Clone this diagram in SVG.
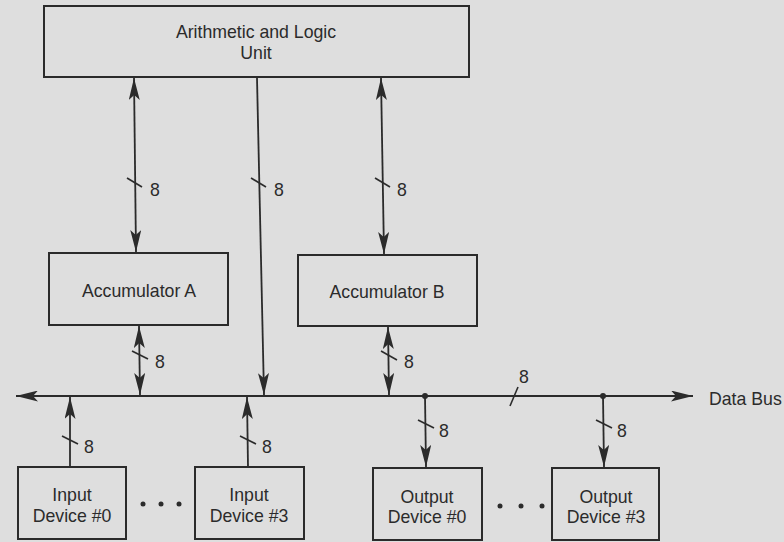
<svg xmlns="http://www.w3.org/2000/svg" width="784" height="542" viewBox="0 0 784 542">
  <style>
    .box { fill: none; stroke: #2b2b2b; stroke-width: 2; }
    .wire { fill: none; stroke: #2b2b2b; stroke-width: 1.8; }
    .tick { fill: none; stroke: #2b2b2b; stroke-width: 1.6; }
    .lbl { font-family: "Liberation Sans", Arial, sans-serif; font-size: 17.7px; fill: #2b2b2b; text-anchor: middle; }
    .num { font-family: "Liberation Sans", Arial, sans-serif; font-size: 17.7px; fill: #2b2b2b; }
    .dot { fill: #2b2b2b; }
  </style>
  <defs>
    <marker id="head" viewBox="0 0 22 11" refX="22" refY="5.5" markerWidth="22" markerHeight="11" markerUnits="userSpaceOnUse" orient="auto-start-reverse">
      <path d="M0,0 L22,5.5 L0,11 L5,5.5 Z" fill="#2b2b2b"/>
    </marker>
  </defs>

  <rect width="784" height="542" fill="#dedede"/>

  <!-- connectors -->
  <g id="connectors">
    <!-- data bus, arrowheads at both ends -->
    <line class="wire" x1="16" y1="396" x2="693" y2="396" marker-start="url(#head)" marker-end="url(#head)"/>
    <line class="tick" x1="510" y1="406" x2="518" y2="387"/>
    <text class="num" x="519" y="383">8</text>
    <text class="num" x="709" y="405">Data Bus</text>
    <circle class="dot" cx="425" cy="396" r="3"/>
    <circle class="dot" cx="603" cy="396" r="3"/>

    <!-- ALU <-> Accumulator A -->
    <line class="wire" x1="134" y1="78" x2="136" y2="252" marker-start="url(#head)" marker-end="url(#head)"/>
    <line class="tick" x1="127" y1="178" x2="142" y2="187"/>
    <text class="num" x="150" y="196">8</text>

    <!-- ALU -> bus -->
    <line class="wire" x1="257" y1="78" x2="264" y2="395" marker-end="url(#head)"/>
    <line class="tick" x1="251" y1="178" x2="266" y2="187"/>
    <text class="num" x="274" y="196">8</text>

    <!-- ALU <-> Accumulator B -->
    <line class="wire" x1="381" y1="78" x2="384" y2="254" marker-start="url(#head)" marker-end="url(#head)"/>
    <line class="tick" x1="375" y1="178" x2="390" y2="187"/>
    <text class="num" x="397" y="196">8</text>

    <!-- Accumulator A <-> bus -->
    <line class="wire" x1="139" y1="326" x2="140" y2="395" marker-start="url(#head)" marker-end="url(#head)"/>
    <line class="tick" x1="132" y1="351" x2="148" y2="359"/>
    <text class="num" x="155" y="368">8</text>

    <!-- Accumulator B <-> bus -->
    <line class="wire" x1="388" y1="327" x2="389" y2="395" marker-start="url(#head)" marker-end="url(#head)"/>
    <line class="tick" x1="381" y1="351" x2="397" y2="360"/>
    <text class="num" x="404" y="368">8</text>

    <!-- input devices -> bus -->
    <line class="wire" x1="70" y1="467" x2="70" y2="397" marker-end="url(#head)"/>
    <line class="tick" x1="62" y1="436" x2="78" y2="444"/>
    <text class="num" x="84" y="453">8</text>

    <line class="wire" x1="248" y1="467" x2="247" y2="397" marker-end="url(#head)"/>
    <line class="tick" x1="240" y1="436" x2="256" y2="444"/>
    <text class="num" x="262" y="453">8</text>

    <!-- bus -> output devices -->
    <line class="wire" x1="425" y1="396" x2="426" y2="467" marker-end="url(#head)"/>
    <line class="tick" x1="418" y1="420" x2="434" y2="428"/>
    <text class="num" x="439" y="437">8</text>

    <line class="wire" x1="603" y1="396" x2="604" y2="467" marker-end="url(#head)"/>
    <line class="tick" x1="596" y1="420" x2="612" y2="428"/>
    <text class="num" x="617" y="437">8</text>

    <!-- ellipses between devices -->
    <circle class="dot" cx="143" cy="504" r="2.5"/>
    <circle class="dot" cx="161" cy="504" r="2.5"/>
    <circle class="dot" cx="179" cy="504" r="2.5"/>
    <circle class="dot" cx="500" cy="506" r="2.5"/>
    <circle class="dot" cx="521" cy="506" r="2.5"/>
    <circle class="dot" cx="542" cy="506" r="2.5"/>
  </g>

  <g id="alu">
    <rect class="box" x="44" y="6" width="425" height="71"/>
    <text class="lbl" x="256" y="38">Arithmetic and Logic</text>
    <text class="lbl" x="256" y="59">Unit</text>
  </g>

  <g id="accumulator-a">
    <rect class="box" x="49" y="253" width="179" height="72"/>
    <text class="lbl" x="139" y="297">Accumulator A</text>
  </g>

  <g id="accumulator-b">
    <rect class="box" x="298" y="255" width="179" height="71"/>
    <text class="lbl" x="387" y="298">Accumulator B</text>
  </g>

  <g id="input-0">
    <rect class="box" x="18" y="467" width="108" height="72"/>
    <text class="lbl" x="72" y="501">Input</text>
    <text class="lbl" x="72" y="522">Device #0</text>
  </g>

  <g id="input-3">
    <rect class="box" x="195" y="467" width="109" height="72"/>
    <text class="lbl" x="249" y="501">Input</text>
    <text class="lbl" x="249" y="522">Device #3</text>
  </g>

  <g id="output-0">
    <rect class="box" x="373" y="468" width="109" height="72"/>
    <text class="lbl" x="427" y="503">Output</text>
    <text class="lbl" x="427" y="523">Device #0</text>
  </g>

  <g id="output-3">
    <rect class="box" x="552" y="468" width="107" height="72"/>
    <text class="lbl" x="606" y="503">Output</text>
    <text class="lbl" x="606" y="523">Device #3</text>
  </g>
</svg>
